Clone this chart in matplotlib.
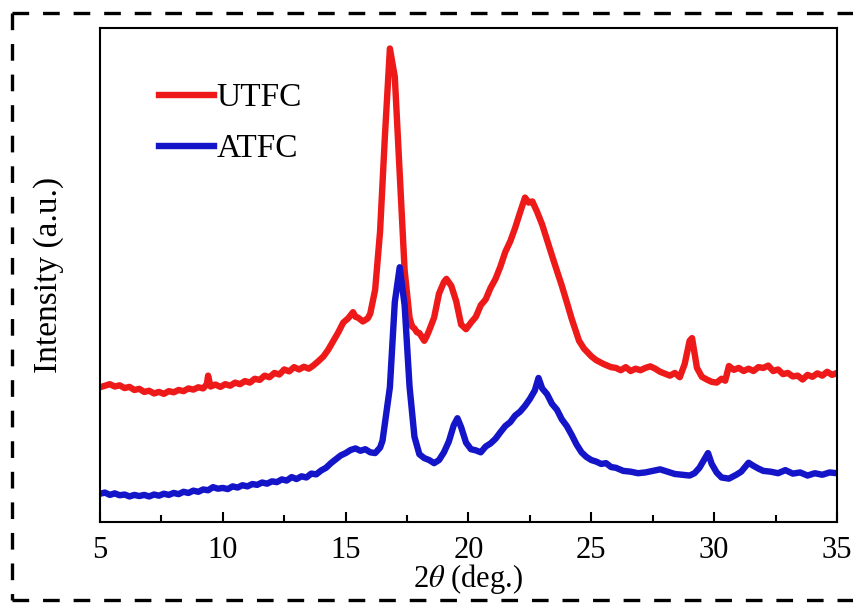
import matplotlib
matplotlib.use("Agg")
import matplotlib.pyplot as plt
from matplotlib.lines import Line2D

plt.rcParams['font.family'] = ['Liberation Serif', 'DejaVu Serif']
plt.rcParams['mathtext.fontset'] = 'stix'
plt.rcParams['lines.scale_dashes'] = False

# XRD patterns, intensity in arbitrary units
utfc_x = [5.0, 5.2, 5.4, 5.6, 5.8, 6.0, 6.2, 6.4, 6.6, 6.8, 7.0, 7.2, 7.4, 7.6, 7.8,
          8.0, 8.2, 8.4, 8.6, 8.8, 9.0, 9.2, 9.35, 9.4, 9.5, 9.7, 9.9, 10.1, 10.3,
          10.5, 10.7, 10.9, 11.1, 11.3, 11.5, 11.7, 11.9, 12.1, 12.3, 12.5, 12.7,
          12.9, 13.1, 13.3, 13.5, 13.7, 13.9, 14.1, 14.3, 14.5, 14.7, 14.9, 15.1,
          15.3, 15.4, 15.5, 15.7, 15.9, 16.0, 16.2, 16.4, 16.6, 16.8, 17.0, 17.2,
          17.4, 17.6, 17.7, 17.8, 17.9, 18.0, 18.1, 18.2, 18.3, 18.4, 18.6, 18.8,
          19.0, 19.1, 19.3, 19.5, 19.7, 19.9, 20.1, 20.3, 20.5, 20.7, 20.9, 21.1,
          21.3, 21.5, 21.7, 21.9, 22.1, 22.3, 22.45, 22.6, 22.8, 23.0, 23.2, 23.5,
          23.8, 24.0, 24.2, 24.5, 24.7, 25.0, 25.2, 25.5, 25.8, 26.0, 26.2, 26.4,
          26.6, 26.8, 27.0, 27.2, 27.4, 27.6, 27.8, 28.0, 28.2, 28.4, 28.6, 28.8,
          29.0, 29.1, 29.3, 29.5, 29.7, 29.9, 30.1, 30.3, 30.45, 30.6, 30.8, 31.0,
          31.2, 31.4, 31.6, 31.8, 32.0, 32.2, 32.4, 32.6, 32.8, 33.0, 33.2, 33.4,
          33.6, 33.8, 34.0, 34.2, 34.4, 34.6, 34.8, 35.0]
utfc_y = [348, 352, 356, 350, 353, 346, 349, 341, 344, 336, 339, 332, 336, 331, 338,
          335, 341, 338, 345, 342, 348, 345, 356, 378, 350, 355, 349, 356, 352,
          360, 356, 364, 360, 370, 367, 378, 374, 385, 381, 394, 389,
          400, 394, 401, 396, 405, 416, 428, 446, 468, 490, 515, 526,
          542, 530, 528, 518, 526, 538, 600, 750, 1000, 1223, 1150, 900,
          650, 528, 505, 500, 490, 488, 478, 468, 480, 495, 528, 590,
          620, 628, 610, 570, 510, 498, 515, 530, 560, 575, 605, 628,
          660, 698, 725, 760, 800, 838, 825, 828, 800, 768, 728, 668,
          610, 568, 525, 468, 448, 428, 418, 408, 400, 398, 392, 400,
          390, 396, 392, 398, 402, 396, 388, 383, 378, 385, 374, 408,
          468, 475, 398, 375, 368, 362, 360, 370, 365, 403, 393, 398,
          390, 396, 390, 400, 398, 404, 390, 394, 382, 385, 376, 378,
          368, 380, 375, 384, 378, 388, 380, 385]

atfc_x = [5.0, 5.2, 5.4, 5.6, 5.8, 6.0, 6.2, 6.4, 6.6, 6.8, 7.0, 7.2, 7.4, 7.6, 7.8,
          8.0, 8.2, 8.4, 8.6, 8.8, 9.0, 9.2, 9.4, 9.6, 9.8, 10.0, 10.2, 10.4, 10.6,
          10.8, 11.0, 11.2, 11.4, 11.6, 11.8, 12.0, 12.2, 12.4, 12.6, 12.8, 13.0,
          13.2, 13.4, 13.6, 13.8, 14.0, 14.2, 14.4, 14.6, 14.8, 15.0, 15.2, 15.4,
          15.6, 15.8, 16.0, 16.2, 16.4, 16.5, 16.8, 17.0, 17.2, 17.4, 17.6, 17.8,
          18.0, 18.2, 18.4, 18.6, 18.8, 19.0, 19.2, 19.4, 19.55, 19.7, 19.9, 20.1,
          20.3, 20.5, 20.7, 20.9, 21.1, 21.3, 21.5, 21.7, 21.9, 22.1, 22.3, 22.5,
          22.7, 22.85, 23.0, 23.2, 23.4, 23.6, 23.8, 24.0, 24.2, 24.4, 24.6, 24.8,
          25.0, 25.2, 25.4, 25.6, 25.8, 26.0, 26.3, 26.6, 26.9, 27.2, 27.5, 27.8,
          28.1, 28.4, 28.7, 29.0, 29.2, 29.4, 29.75, 29.9, 30.1, 30.3, 30.6, 30.9,
          31.1, 31.4, 31.6, 31.8, 32.0, 32.3, 32.6, 32.9, 33.2, 33.5, 33.8, 34.1,
          34.4, 34.7, 35.0]
atfc_y = [73, 76, 70, 74, 69, 71, 66, 70, 67, 70, 66, 71, 68, 73, 70,
          75, 72, 78, 75, 81, 78, 84, 82, 90, 86, 88, 85, 92, 89,
          95, 92, 98, 96, 102, 99, 105, 103, 110, 107, 116, 111,
          118, 115, 125, 123, 133, 140, 152, 162, 172, 178, 186, 190,
          184, 188, 180, 178, 192, 210, 348, 568, 658, 560, 350, 220,
          175, 165, 160, 152, 160, 180, 208, 250, 268, 245, 205, 188,
          185, 180, 195, 203, 215, 232, 248, 258, 275, 285, 300, 318,
          340, 372, 345, 330, 305, 290, 265, 248, 225, 200, 180, 168,
          160, 156, 150, 152, 142, 140, 132, 130, 126, 128, 132, 136,
          130, 124, 122, 120, 126, 140, 178, 150, 128, 115, 112, 122,
          130, 153, 145, 138, 132, 130, 126, 134, 125, 128, 120, 126,
          122, 128, 126]

fig = plt.figure(figsize=(8.54, 6.08), dpi=100)
ax = fig.add_axes([100 / 854, 1 - 522 / 608, 737 / 854, 494 / 608])

ax.plot(utfc_x, utfc_y, color='#ee1a1a', lw=4.6, label='UTFC')
ax.plot(atfc_x, atfc_y, color='#1414c8', lw=4.6, label='ATFC')

ax.set_xlim(5, 35)
ax.set_ylim(0, 1276)
ax.set_xticks([5, 10, 15, 20, 25, 30, 35])
ax.set_xticks([7.5, 12.5, 17.5, 22.5, 27.5, 32.5], minor=True)
ax.set_yticks([])
ax.tick_params(axis='x', which='major', direction='in', length=7, width=1.5,
               labelsize=22, pad=10)
ax.tick_params(axis='x', which='minor', direction='in', length=5, width=1.5)
for sp in ax.spines.values():
    sp.set_linewidth(1.5)

ax.set_xlabel(r'2$\theta$ (deg.)', fontsize=22, labelpad=-2)
ax.set_ylabel('Intensity (a.u.)', fontsize=24, labelpad=26)

leg = ax.legend(loc='upper left', bbox_to_anchor=(0.04, 0.95), frameon=False,
                fontsize=24, handlelength=1.65, handletextpad=0.05,
                labelspacing=0.62)

# dashed frame round the figure
dash = dict(color='black', lw=2.4, dashes=(12, 10), transform=fig.transFigure,
            clip_on=False)
fig.add_artist(Line2D([12 / 854, 1.0], [1 - 13 / 608, 1 - 13 / 608], **dash))
fig.add_artist(Line2D([12 / 854, 12 / 854], [1 - 13 / 608, 1 - 600 / 608], **dash))
fig.add_artist(Line2D([12 / 854, 1.0], [1 - 600 / 608, 1 - 600 / 608], **dash))

fig.savefig('out.png', dpi=100)
